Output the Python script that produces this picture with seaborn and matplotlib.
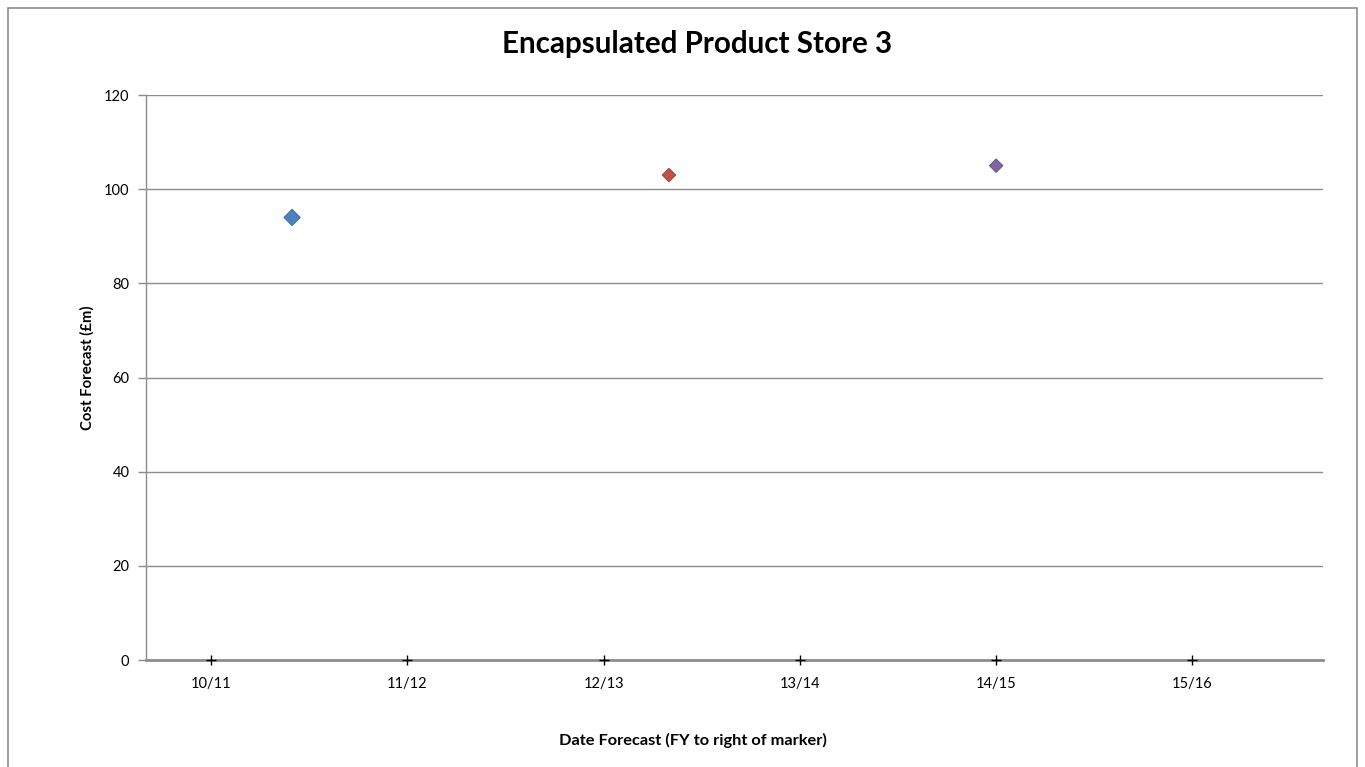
import matplotlib
matplotlib.use("Agg")
import matplotlib.pyplot as plt
import seaborn as sns
import pandas as pd
from matplotlib.patches import Rectangle

# Fiscal-year categories along the date axis
fy_labels = ["10/11", "11/12", "12/13", "13/14", "14/15", "15/16"]
fy_positions = [0, 1, 2, 3, 4, 5]

# Forecast points: position in FY units and cost forecast in £m
forecast_dates = [0.413, 2.333, 4.0]
forecast_costs = [94, 103, 105]
forecast_names = ["Forecast A", "Forecast B", "Forecast C"]
forecast_colors = ["#4F81BD", "#C0504D", "#8064A2"]
marker_sizes = [70, 48, 48]

sns.set_theme(style="white")
plt.rcParams["font.family"] = ["Lato", "DejaVu Sans"]
plt.rcParams["text.color"] = "black"
plt.rcParams["axes.labelcolor"] = "black"

fig = plt.figure(figsize=(13.65, 7.67), dpi=100)
ax = fig.add_axes([0.107, 0.1395, 0.8622, 0.7366])

df = pd.DataFrame({"date": forecast_dates, "cost": forecast_costs,
                   "name": forecast_names, "size": marker_sizes})
sns.scatterplot(data=df, x="date", y="cost", hue="name", size="size",
                sizes=(min(marker_sizes), max(marker_sizes)),
                palette=forecast_colors, marker="D", linewidth=0.6,
                edgecolor=None, legend=False, ax=ax, zorder=3)
# darker outlines matching each fill
coll = ax.collections[0]
coll.set_edgecolor(["#3A6699", "#9E3B38", "#634C82"])

# baseline crosses at each fiscal-year tick
ax.scatter(fy_positions, [0] * len(fy_positions), marker="+", color="black",
           s=60, linewidths=1.0, clip_on=False, zorder=4)

ax.set_xlim(-0.331, 5.665)
ax.set_ylim(0, 120)
ax.set_yticks(range(0, 121, 20))
ax.set_xticks(fy_positions)
ax.set_xticklabels(fy_labels)

ax.grid(axis="y", color="#8C8C8C", linewidth=1.0)
ax.grid(axis="x", visible=False)
ax.set_axisbelow(True)

for side in ["top", "right"]:
    ax.spines[side].set_visible(False)
ax.spines["left"].set_color("#8C8C8C")
ax.spines["left"].set_linewidth(1.0)
ax.spines["bottom"].set_color("#8C8C8C")
ax.spines["bottom"].set_linewidth(2.0)

ax.tick_params(axis="y", direction="out", length=6, width=1, color="#8C8C8C",
               labelsize=10.5, labelcolor="black", pad=6, left=True)
ax.tick_params(axis="x", length=0, labelsize=10.5, labelcolor="black", pad=12)

ax.set_xlabel("")
ax.set_ylabel("")
fig.text(87 / 1365, 1 - 368 / 767, "Cost Forecast (£m)", rotation=90,
         ha="center", va="center", fontsize=10.7, fontweight="bold")
fig.text(693 / 1365, 1 - 740 / 767, "Date Forecast (FY to right of marker)",
         ha="center", va="center", fontsize=11.8, fontweight="bold")

fig.text(697 / 1365, 1 - 44 / 767, "Encapsulated Product Store 3", ha="center",
         va="center", fontsize=21.3, fontweight="bold")

# outer chart border
fig.patches.append(Rectangle((8 / 1365, -0.05), 1349 / 1365, 1.05 - 8 / 767,
                             transform=fig.transFigure, fill=False,
                             edgecolor="#8C8C8C", linewidth=1.2))

fig.savefig("out.png", dpi=100)
